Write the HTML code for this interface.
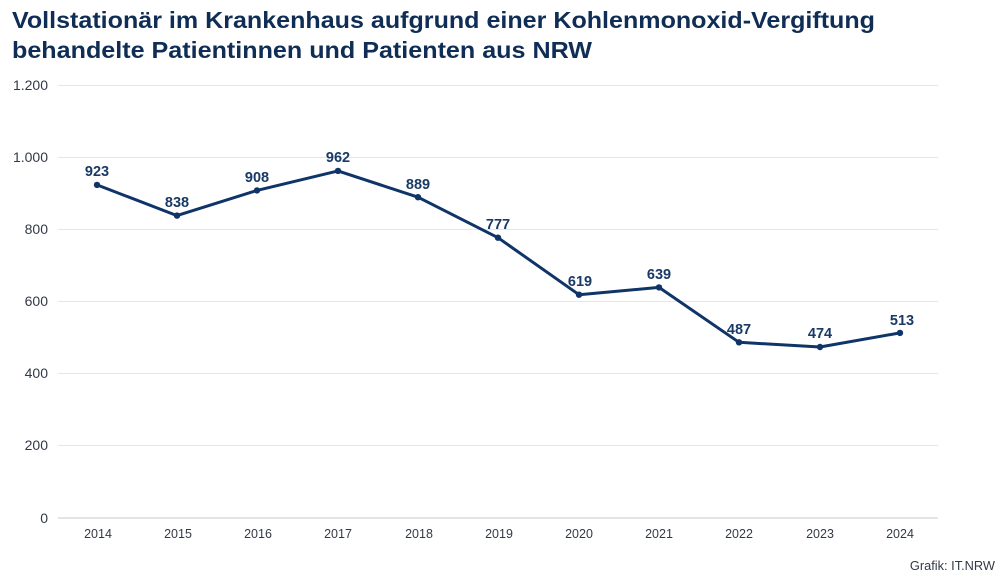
<!DOCTYPE html>
<html>
<head>
<meta charset="utf-8">
<style>
html,body{margin:0;padding:0;background:#fff;}
body{width:999px;height:577px;overflow:hidden;}
svg{display:block;}
</style>
</head>
<body>
<svg width="999" height="577" viewBox="0 0 999 577" xmlns="http://www.w3.org/2000/svg" font-family="'Liberation Sans', 'DejaVu Sans', sans-serif">
  <text x="12" y="28" font-size="23.5" font-weight="bold" fill="#0f2d55" textLength="863" lengthAdjust="spacingAndGlyphs">Vollstationär im Krankenhaus aufgrund einer Kohlenmonoxid-Vergiftung</text>
  <text x="12" y="58" font-size="23.5" font-weight="bold" fill="#0f2d55" textLength="580" lengthAdjust="spacingAndGlyphs">behandelte Patientinnen und Patienten aus NRW</text>

  <g stroke="#e6e6e6" stroke-width="1">
    <line x1="58" y1="85.5" x2="938" y2="85.5"/>
    <line x1="58" y1="157.5" x2="938" y2="157.5"/>
    <line x1="58" y1="229.5" x2="938" y2="229.5"/>
    <line x1="58" y1="301.5" x2="938" y2="301.5"/>
    <line x1="58" y1="373.5" x2="938" y2="373.5"/>
    <line x1="58" y1="445.5" x2="938" y2="445.5"/>
  </g>
  <line x1="58" y1="518" x2="938" y2="518" stroke="#dcdcdc" stroke-width="1.5"/>

  <g font-size="14" fill="#333a45" text-anchor="end">
    <text x="48" y="90">1.200</text>
    <text x="48" y="162">1.000</text>
    <text x="48" y="234">800</text>
    <text x="48" y="306">600</text>
    <text x="48" y="378">400</text>
    <text x="48" y="450">200</text>
    <text x="48" y="523">0</text>
  </g>

  <g font-size="12.5" fill="#333a45" text-anchor="middle">
    <text x="98" y="538">2014</text>
    <text x="178" y="538">2015</text>
    <text x="258" y="538">2016</text>
    <text x="338" y="538">2017</text>
    <text x="419" y="538">2018</text>
    <text x="499" y="538">2019</text>
    <text x="579" y="538">2020</text>
    <text x="659" y="538">2021</text>
    <text x="739" y="538">2022</text>
    <text x="820" y="538">2023</text>
    <text x="900" y="538">2024</text>
  </g>

  <polyline fill="none" stroke="#0e3468" stroke-width="3" stroke-linejoin="round" stroke-linecap="round"
    points="97,184.9 177,215.6 257,190.4 338,170.9 418,197.2 498,237.7 579,294.7 659,287.4 739,342.3 820,347.0 900,332.9"/>
  <g fill="#0e3468">
    <circle cx="97" cy="184.9" r="3.2"/>
    <circle cx="177" cy="215.6" r="3.2"/>
    <circle cx="257" cy="190.4" r="3.2"/>
    <circle cx="338" cy="170.9" r="3.2"/>
    <circle cx="418" cy="197.2" r="3.2"/>
    <circle cx="498" cy="237.7" r="3.2"/>
    <circle cx="579" cy="294.7" r="3.2"/>
    <circle cx="659" cy="287.4" r="3.2"/>
    <circle cx="739" cy="342.3" r="3.2"/>
    <circle cx="820" cy="347.0" r="3.2"/>
    <circle cx="900" cy="332.9" r="3.2"/>
  </g>

  <g font-size="14.5" font-weight="bold" fill="#1a3a66" text-anchor="middle">
    <text x="97" y="176">923</text>
    <text x="177" y="207">838</text>
    <text x="257" y="182">908</text>
    <text x="338" y="162">962</text>
    <text x="418" y="189">889</text>
    <text x="498" y="229">777</text>
    <text x="580" y="286">619</text>
    <text x="659" y="279">639</text>
    <text x="739" y="334">487</text>
    <text x="820" y="338">474</text>
    <text x="902" y="325">513</text>
  </g>

  <text x="995" y="570" font-size="12.8" fill="#333a45" text-anchor="end">Grafik: IT.NRW</text>
</svg>
</body>
</html>
